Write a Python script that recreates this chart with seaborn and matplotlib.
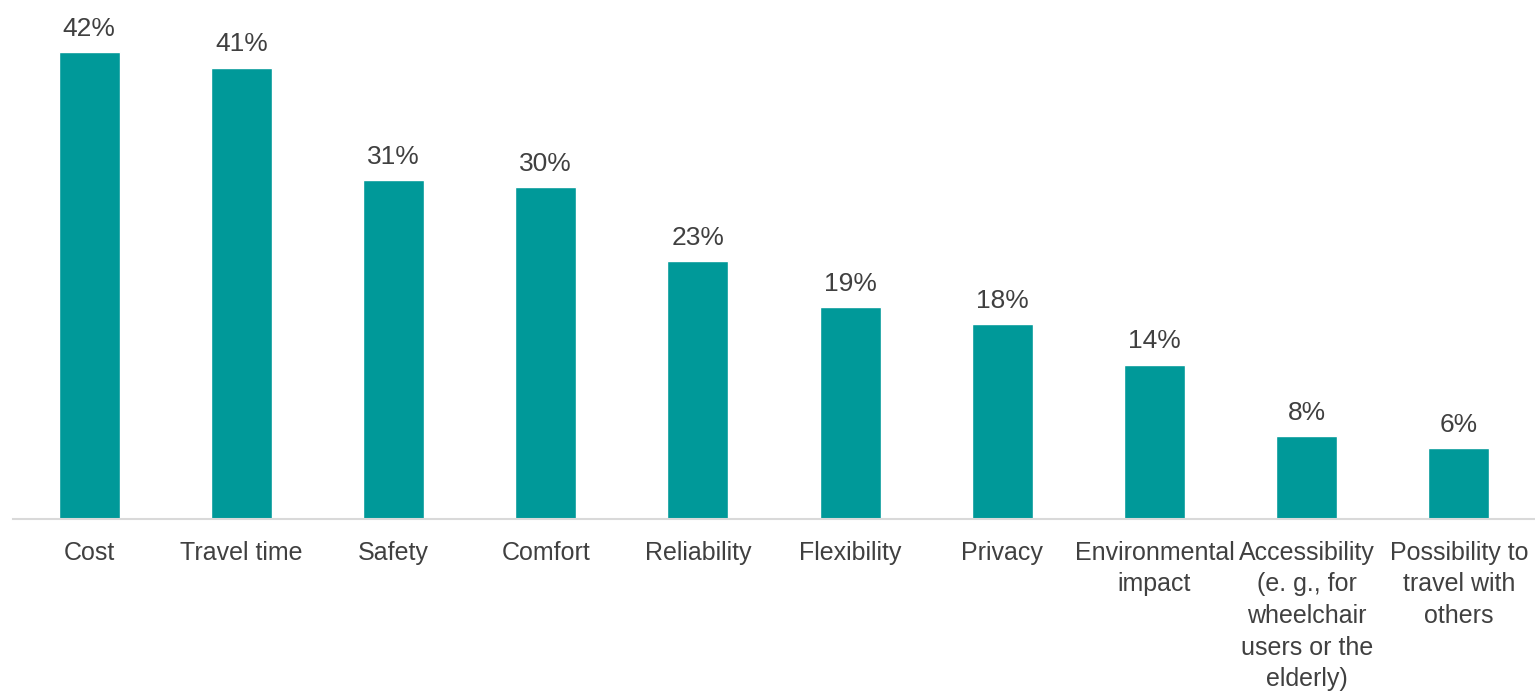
import matplotlib
matplotlib.use("Agg")
import matplotlib.pyplot as plt
import seaborn as sns
import pandas as pd

# === DATOS ===
categorias = [
    "Cost", "Travel time", "Safety", "Comfort", "Reliability", "Flexibility",
    "Privacy", "Environmental\nimpact",
    "Accessibility\n(e. g., for\nwheelchair\nusers or the\nelderly)",
    "Possibility to\ntravel with\nothers",
]
porcentajes = [42.4, 41.0, 30.8, 30.1, 23.4, 19.2, 17.7, 14.0, 7.5, 6.4]
etiquetas = ["42%", "41%", "31%", "30%", "23%", "19%", "18%", "14%", "8%", "6%"]

df = pd.DataFrame({"categoria": categorias, "porcentaje": porcentajes})

# === CONFIGURACION ===
sns.set_theme(style="white")
plt.rcParams["font.family"] = ["Liberation Sans Narrow", "Liberation Sans", "DejaVu Sans"]
color_texto = "#404040"

fig = plt.figure(figsize=(15.35, 6.96), dpi=100)
ax = fig.add_axes([13 / 1535, (696 - 518.5) / 696, 1 - 13 / 1535, 495 / 696])

sns.barplot(data=df, x="categoria", y="porcentaje", color="#009999",
            saturation=1, width=0.4, ax=ax)

for cont in ax.containers:
    ax.bar_label(cont, labels=etiquetas, padding=8, fontsize=19, color=color_texto)

ax.set_ylim(0, 45)
ax.set_xlim(-0.5, len(categorias) - 0.5)
ax.set_xlabel("")
ax.set_ylabel("")
ax.set_yticks([])
for lado in ["top", "right", "left"]:
    ax.spines[lado].set_visible(False)
ax.spines["bottom"].set_color("#d9d9d9")
ax.spines["bottom"].set_linewidth(1.5)
ax.tick_params(axis="x", length=0, pad=16, labelsize=18, labelcolor=color_texto)
for t in ax.get_xticklabels():
    t.set_linespacing(1.4)
    t.set_verticalalignment("top")

fig.savefig("out.png", dpi=100)
